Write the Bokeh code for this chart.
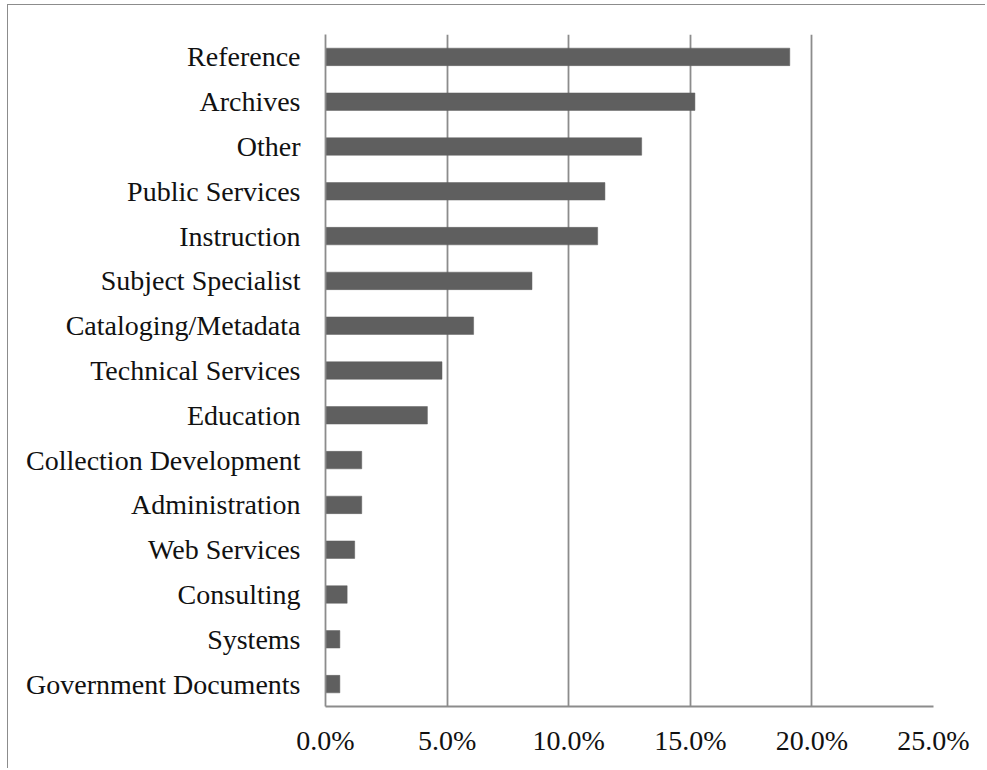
from bokeh.plotting import figure
from bokeh.models import FactorRange, Range1d, FixedTicker, NumeralTickFormatter, ColumnDataSource
from bokeh.embed import file_html
from bokeh.resources import INLINE

categories = ["Reference", "Archives", "Other", "Public Services", "Instruction",
              "Subject Specialist", "Cataloging/Metadata", "Technical Services",
              "Education", "Collection Development", "Administration", "Web Services",
              "Consulting", "Systems", "Government Documents"]
shares = [0.1909, 0.1519, 0.1300, 0.1149, 0.1119, 0.0849, 0.0609, 0.0479,
          0.0419, 0.0149, 0.0149, 0.0120, 0.0089, 0.0059, 0.0059]
x_ticks = [0.0, 0.05, 0.10, 0.15, 0.20, 0.25]

FONT = "Liberation Serif"
GRID = "#8c8c8c"

src = ColumnDataSource(dict(cat=categories, val=shares))

p = figure(width=978, height=764, output_backend="svg", toolbar_location=None,
           y_range=FactorRange(factors=list(reversed(categories))),
           x_range=Range1d(0, 0.25),
           min_border_left=317, min_border_top=29, min_border_right=53, min_border_bottom=63)

p.styles = {"border-top": "1.5px solid #8c8c8c", "border-left": "1.5px solid #8c8c8c",
            "margin-left": "7px", "margin-top": "4px"}

p.hbar(y="cat", right="val", left=0, height=0.39, source=src,
       fill_color="#5f5f5f", line_color="#5f5f5f", line_width=0.5)

p.outline_line_color = None
p.ygrid.grid_line_color = None
p.xgrid.grid_line_color = GRID
p.xgrid.grid_line_width = 1.8
p.xgrid.ticker = FixedTicker(ticks=x_ticks)

p.xaxis.ticker = FixedTicker(ticks=x_ticks)
p.xaxis.formatter = NumeralTickFormatter(format="0.0%")
for ax in (p.xaxis[0], p.yaxis[0]):
    ax.axis_line_color = GRID
    ax.axis_line_width = 1.8
    ax.major_tick_line_color = None
    ax.minor_tick_line_color = None
    ax.major_label_text_font = FONT
    ax.major_label_text_font_size = "28px"
    ax.major_label_text_color = "#111111"
p.xaxis.major_label_standoff = 12
p.yaxis.major_label_standoff = 19

open("out.html", "w").write(file_html(p, INLINE))
